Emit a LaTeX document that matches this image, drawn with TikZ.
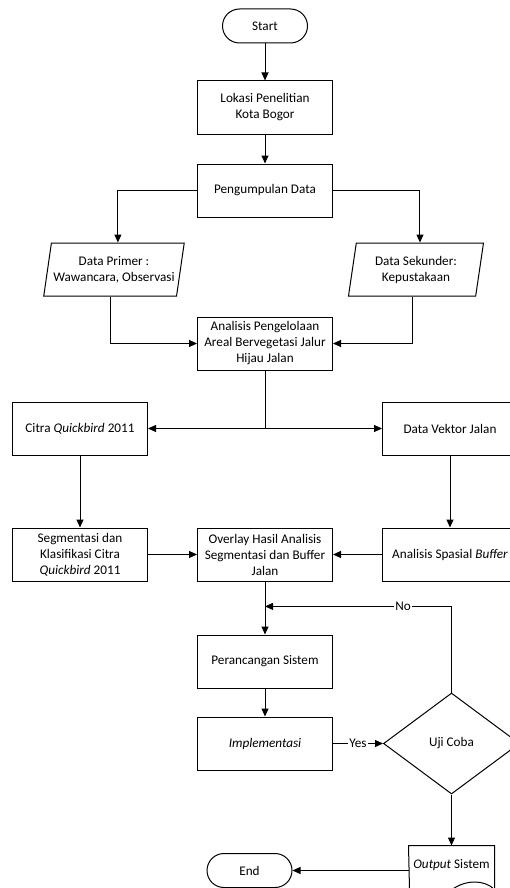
\documentclass[tikz,border=0pt]{standalone}
\usepackage{fontspec}
\setmainfont{Carlito}
\usetikzlibrary{positioning, shapes.geometric, arrows.meta, calc}

\begin{document}
\begin{tikzpicture}[x=1pt, y=-1pt, >={Triangle[length=8pt,width=7pt]},
    font=\fontsize{13.2}{16}\selectfont, line width=1pt,
    process/.style={draw, rectangle, minimum width=135pt, minimum height=53pt, inner sep=2pt, align=center},
    terminal/.style={draw, rectangle, rounded corners=17pt, minimum width=85pt, minimum height=34pt},
    io/.style={draw, trapezium, trapezium left angle=76, trapezium right angle=104, trapezium stretches body,
        minimum width=135pt, minimum height=53pt, inner sep=2pt, align=center},
    decision/.style={draw, diamond, minimum width=136pt, minimum height=101pt, inner sep=0pt},
    lbl/.style={fill=white, inner sep=1pt}]
    \useasboundingbox (0,0) rectangle (510,888);

    \node[terminal] (start) at (265,26) {Start};
    \node[process, below=37pt of start] (lokasi) {Lokasi Penelitian\\Kota Bogor};
    \node[process, below=29pt of lokasi] (kumpul) {Pengumpulan Data};
    \node[io, below=25pt of kumpul, xshift=-151pt] (primer) {Data Primer :\\Wawancara, Observasi};
    \node[io, below=25pt of kumpul, xshift=151pt] (sekunder) {Data Sekunder:\\Kepustakaan};
    \node[process, below=99pt of kumpul] (analisis) {Analisis Pengelolaan\\Areal Bervegetasi Jalur\\Hijau Jalan};

    \node[process, below left=31pt and 49pt of analisis] (citra) {Citra \textit{Quickbird} 2011};
    \node[process, below right=31pt and 49pt of analisis] (vektor) {Data Vektor Jalan};
    \node[process, below=72pt of citra] (segmen) {Segmentasi dan\\Klasifikasi Citra\\\textit{Quickbird} 2011};
    \node[process, right=49pt of segmen] (overlay) {Overlay Hasil Analisis\\Segmentasi dan Buffer\\Jalan};
    \node[process, right=49pt of overlay] (buffer) {Analisis Spasial \textit{Buffer}};

    \node[process, below=53pt of overlay] (rancang) {Perancangan Sistem};
    \node[process, below=28pt of rancang] (implement) {\textit{Implementasi}};
    \node[decision, right=50pt of implement] (uji) {Uji Coba};
    \node[minimum width=85pt, minimum height=38pt, inner sep=0pt, below=51pt of uji] (output) {\textit{Output} Sistem};
    \node[terminal, left=116pt of output, yshift=-5.5pt] (finish) {End};

    % document shape of the output
    \draw (output.north west) -- (output.north east) -- ++(0,44)
        .. controls +(-10,-10) and +(14,-10) .. ++(-42.5,0)
        .. controls +(-14,10) and +(14,10) .. ++(-42.5,0) -- cycle;

    \coordinate (primer-top) at ($(primer.top left corner)!0.5!(primer.top right corner)$);
    \coordinate (primer-bot) at ($(primer.bottom left corner)!0.5!(primer.bottom right corner)$);
    \coordinate (sekunder-top) at ($(sekunder.top left corner)!0.5!(sekunder.top right corner)$);
    \coordinate (sekunder-bot) at ($(sekunder.bottom left corner)!0.5!(sekunder.bottom right corner)$);
    \coordinate (fork) at (analisis |- citra);
    \coordinate (merge) at ($(overlay.south)!0.47!(rancang.north)$);

    \draw[->] (start) -- (lokasi);
    \draw[->] (lokasi) -- (kumpul);
    \draw[->] (kumpul.west) -| (primer-top);
    \draw[->] (kumpul.east) -| (sekunder-top);
    \draw[->] (primer-bot) |- (analisis.west);
    \draw[->] (sekunder-bot) |- (analisis.east);

    \draw (analisis.south) -- (fork);
    \draw[->] (fork) -- (citra.east);
    \draw[->] (fork) -- (vektor.west);
    \draw[->] (citra) -- (segmen);
    \draw[->] (vektor) -- (buffer);
    \draw[->] (segmen) -- (overlay);
    \draw[->] (buffer) -- (overlay);

    \draw[->] (overlay) -- (rancang);
    \draw[->] (rancang) -- (implement);
    \draw[->] (implement) -- node[lbl] {Yes} (uji);
    \draw[->] (uji.north) |- node[lbl, pos=0.63] {No} (merge);
    \draw[->] (uji) -- (output);
    \draw[->] (finish -| output.west) -- (finish);
\end{tikzpicture}
\end{document}
